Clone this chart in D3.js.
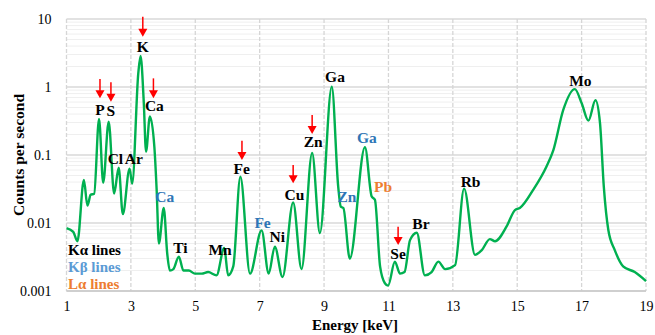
<!DOCTYPE html>
<html><head><meta charset="utf-8">
<script src="https://cdn.jsdelivr.net/npm/d3@7"></script>
<style>body{margin:0;background:#fff}svg{display:block}</style>
</head><body><svg id="c" width="655" height="335"></svg>
<script>
const energy = [1.00,1.21,1.34,1.54,1.65,1.75,1.86,2.01,2.14,2.31,2.48,2.62,2.75,2.96,3.04,3.23,3.30,3.40,3.47,3.59,3.73,3.80,3.87,4.02,4.13,4.21,4.32,4.49,4.63,4.80,4.99,5.20,5.40,5.66,5.90,6.02,6.18,6.40,6.70,7.06,7.28,7.47,7.71,8.04,8.30,8.63,8.87,9.24,9.44,9.52,9.60,9.80,10.27,10.48,10.58,10.74,10.89,10.99,11.20,11.36,11.50,11.67,11.88,12.13,12.34,12.55,12.76,13.07,13.35,13.69,13.90,14.15,14.31,14.67,14.93,15.08,15.50,15.91,16.12,16.43,16.79,17.00,17.21,17.43,17.57,17.69,17.83,18.03,18.29,18.65,19.00];
const counts = [0.0084,0.0074,0.0054,0.043,0.018,0.026,0.027,0.34,0.039,0.31,0.027,0.065,0.0135,0.063,0.038,1.6,2.86,0.6,0.112,0.37,0.13,0.031,0.005,0.0166,0.0035,0.0020,0.0021,0.0032,0.0020,0.0020,0.0018,0.0018,0.0019,0.0017,0.0043,0.0017,0.0023,0.048,0.0018,0.0078,0.0018,0.0045,0.0016,0.020,0.0021,0.107,0.0071,1.01,0.034,0.0174,0.0166,0.0030,0.13,0.0245,0.022,0.0023,0.0013,0.0012,0.0027,0.0018,0.0019,0.0056,0.0072,0.0017,0.0019,0.0027,0.0021,0.0024,0.032,0.0034,0.0040,0.0058,0.0054,0.0089,0.0155,0.0166,0.031,0.068,0.117,0.46,0.93,0.58,0.32,0.64,0.30,0.034,0.0079,0.0040,0.0023,0.0019,0.0014];
const xTicks = [1,3,5,7,9,11,13,15,17,19];
const yTicks = [10,1,0.1,0.01,0.001];
const yTickLabels = ["10","1","0.1","0.01","0.001"];
// peak labels: text, energy (centre), counts at label baseline, line type
const labelText = ["K","P","S","Ca","Cl","Ar","Ca","Ti","Mn","Fe","Fe","Ni","Cu","Zn","Ga","Zn","Ga","Pb","Se","Br","Rb","Mo"];
const labelE =    [3.37,2.04,2.38,3.73,2.52,3.09,4.05,4.54,5.77,6.44,7.09,7.55,8.08,8.66,9.34,9.71,10.33,10.83,11.30,12.01,13.55,16.96];
const labelC =    [3.30,0.387,0.37,0.444,0.0738,0.0738,0.0201,0.00358,0.00338,0.0526,0.00844,0.0052,0.0218,0.130,1.20,0.0206,0.149,0.0283,0.00292,0.00807,0.0335,1.045];
const labelType = ["a","a","a","a","a","a","b","a","a","a","b","a","a","a","a","b","b","l","a","a","a","a"];
// red arrows: energy, counts at top, counts at tip
const arrowE =   [3.37,2.04,2.38,3.70,6.45,8.04,8.63,11.30];
const arrowTop = [10.8,1.31,1.17,1.34,0.162,0.0713,0.387,0.00883];
const arrowTip = [5.5,0.682,0.608,0.682,0.0844,0.0384,0.204,0.00474];
const legendText = ["Kα lines","Kβ lines","Lα lines"];

const colorOf = {a:"#000000", b:"#2e75b6", l:"#ed7d31"};
const legendColors = ["#000000","#5b9bd5","#ed7d31"];
const FONT = "'Liberation Serif', Tinos, 'Times New Roman', 'DejaVu Serif', serif";

const svg = d3.select("#c").attr("font-family", FONT);
const L = 66.5, R = 646, T = 19, B = 291;
const x = d3.scaleLinear().domain([1,19]).range([L,R]);
const y = d3.scaleLog().domain([0.001,10]).range([B,T]);

// minor gridlines
const minor = [];
for (let d=0.001; d<10; d*=10) for (let k=2;k<=9;k++) minor.push(+(d*k).toPrecision(3));
svg.append("g").selectAll("line").data(minor).join("line")
  .attr("x1",L).attr("x2",R).attr("y1",d=>y(d)).attr("y2",d=>y(d))
  .attr("stroke","#efefef").attr("stroke-width",1);
// major horizontal
svg.append("g").selectAll("line").data(yTicks).join("line")
  .attr("x1",L).attr("x2",R).attr("y1",d=>y(d)).attr("y2",d=>y(d))
  .attr("stroke","#d9d9d9").attr("stroke-width",1.3);
// vertical
svg.append("g").selectAll("line").data(xTicks).join("line")
  .attr("x1",d=>x(d)).attr("x2",d=>x(d)).attr("y1",T).attr("y2",B)
  .attr("stroke","#d6d6d6").attr("stroke-width",1.3).attr("stroke-dasharray","4,2");
svg.append("line").attr("x1",L).attr("x2",R).attr("y1",B).attr("y2",B).attr("stroke","#c8c8c8").attr("stroke-width",1.3);

// axes tick labels
const xa = d3.axisBottom(x).tickValues(xTicks).tickSize(0).tickPadding(10).tickFormat(d3.format("d"));
const gx = svg.append("g").attr("transform",`translate(0,${B})`).call(xa).attr("font-family",FONT);
gx.select(".domain").remove();
gx.selectAll("text").attr("font-size",14).attr("fill","#000");
const ya = d3.axisLeft(y).tickValues(yTicks).tickSize(0).tickPadding(15).tickFormat((d,i)=>yTickLabels[i]);
const gy = svg.append("g").attr("transform",`translate(${L},0)`).call(ya).attr("font-family",FONT);
gy.select(".domain").remove();
gy.selectAll("text").attr("font-size",14).attr("fill","#000");

// axis titles
svg.append("text").attr("x",355).attr("y",330).attr("text-anchor","middle")
  .attr("font-size",15).attr("font-weight","bold").text("Energy [keV]");
svg.append("text").attr("transform",`translate(24,${(T+B)/2}) rotate(-90)`).attr("text-anchor","middle")
  .attr("font-size",15.5).attr("font-weight","bold").text("Counts per second");

// spectrum
const pts = energy.map((e,i)=>[e,counts[i]]);
svg.append("path").datum(pts)
  .attr("d", d3.line().x(d=>x(d[0])).y(d=>y(d[1])).curve(d3.curveMonotoneX))
  .attr("fill","none").attr("stroke","#00b050").attr("stroke-width",2.4).attr("stroke-linejoin","round");

// labels
svg.append("g").selectAll("text").data(labelText).join("text")
  .attr("x",(d,i)=>x(labelE[i])).attr("y",(d,i)=>y(labelC[i]))
  .attr("text-anchor","middle").attr("font-size",15.5).attr("font-weight","bold")
  .attr("fill",(d,i)=>colorOf[labelType[i]]).text(d=>d);

// arrows
const ag = svg.append("g");
arrowE.forEach((e,i)=>{
  const ax = x(e), y0 = y(arrowTop[i]), y1 = y(arrowTip[i]);
  ag.append("line").attr("x1",ax).attr("x2",ax).attr("y1",y0).attr("y2",y1-7)
    .attr("stroke","#ff0000").attr("stroke-width",1.5);
  ag.append("path").attr("d",`M${ax-4.5},${y1-8}L${ax+4.5},${y1-8}L${ax},${y1}Z`).attr("fill","#ff0000");
});

// legend
svg.append("g").selectAll("text").data(legendText).join("text")
  .attr("x",68).attr("y",(d,i)=>255+i*17).attr("font-size",15).attr("font-weight","bold")
  .attr("fill",(d,i)=>legendColors[i]).text(d=>d);
</script></body></html>
